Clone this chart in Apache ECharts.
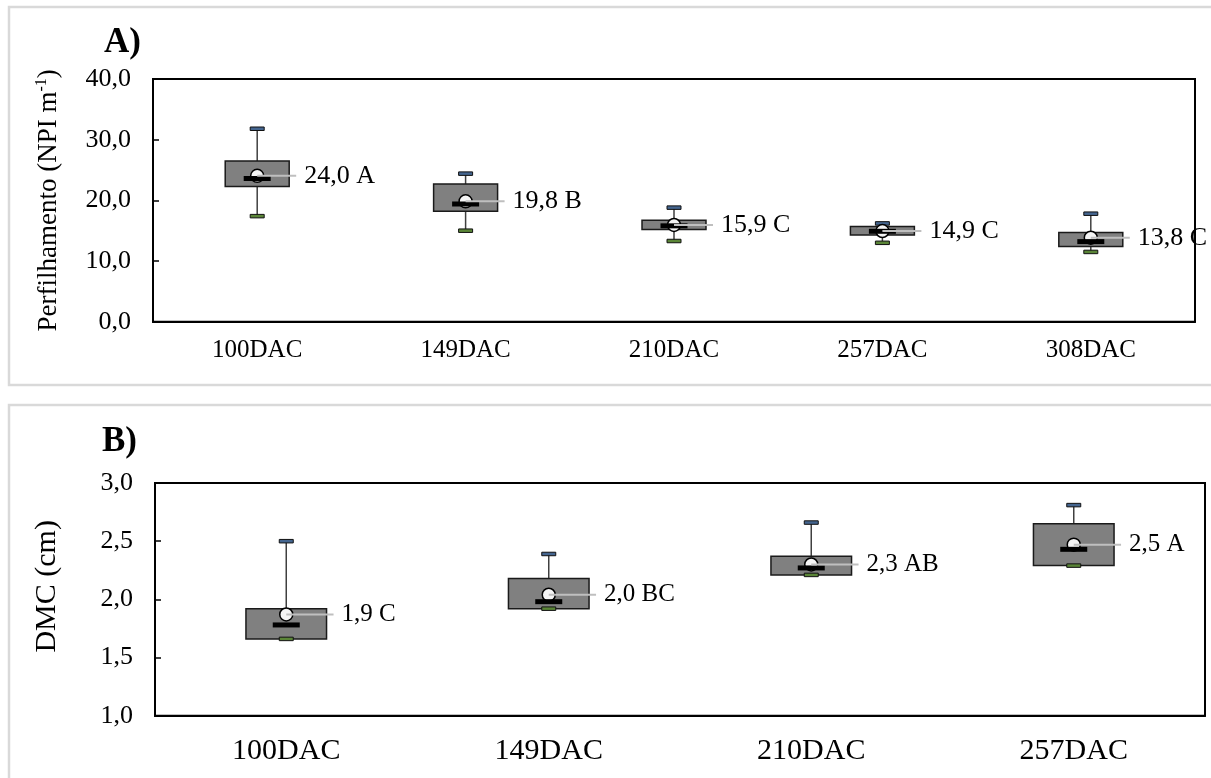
<!DOCTYPE html>
<html>
<head>
<meta charset="utf-8">
<script src="https://cdn.jsdelivr.net/npm/echarts@6/dist/echarts.min.js"></script>
<style>
  html, body { margin: 0; padding: 0; background: #fff; }
  #chart { width: 1211px; height: 778px; }
</style>
</head>
<body>
<div id="chart"></div>
<script>
// Panel A - Perfilhamento
const catsA = ["100DAC", "149DAC", "210DAC", "257DAC", "308DAC"];
const minA = [17.4, 15.0, 13.3, 13.0, 11.5];
const q1A = [22.3, 18.2, 15.2, 14.3, 12.4];
const medA = [23.6, 19.4, 15.8, 14.9, 13.2];
const q3A = [26.5, 22.7, 16.7, 15.7, 14.7];
const maxA = [31.8, 24.4, 18.8, 16.2, 17.8];
const meanA = [24.04, 19.84, 15.94, 14.94, 13.84];
const lettersA = ["A", "B", "C", "C", "C"];
const ticksA = { min: 0, max: 40, step: 10 };

// Panel B - DMC
const catsB = ["100DAC", "149DAC", "210DAC", "257DAC"];
const minB = [1.66, 1.92, 2.21, 2.29];
const q1B = [1.66, 1.92, 2.21, 2.29];
const medB = [1.78, 1.98, 2.27, 2.43];
const q3B = [1.92, 2.18, 2.37, 2.65];
const maxB = [2.50, 2.39, 2.66, 2.81];
const meanB = [1.87, 2.04, 2.30, 2.47];
const lettersB = ["C", "BC", "AB", "A"];
const ticksB = { min: 1, max: 3, step: 0.5 };

const FONT = "'Liberation Serif', 'Times New Roman', serif";
const comma = (v) => v.toFixed(1).replace(".", ",");

function rows(mn, q1, md, q3, mx, mean) {
  return mn.map((v, i) => [i, v, q1[i], md[i], q3[i], mx[i], mean[i]]);
}

function boxRender(mean, letters, fontSize) {
  return function (params, api) {
    const i = api.value(0);
    const x = api.coord([i, api.value(3)])[0];
    const yMin = api.coord([i, api.value(1)])[1];
    const yQ1 = api.coord([i, api.value(2)])[1];
    const yMed = api.coord([i, api.value(3)])[1];
    const yQ3 = api.coord([i, api.value(4)])[1];
    const yMax = api.coord([i, api.value(5)])[1];
    const yMean = api.coord([i, api.value(6)])[1];
    const bw = api.size([1, 0])[0] * 0.307;
    const half = bw / 2;
    const text = comma(mean[params.dataIndex]) + " " + letters[params.dataIndex];
    return {
      type: "group",
      children: [
        { type: "line", shape: { x1: x, y1: yQ3, x2: x, y2: yMax }, style: { stroke: "#404040", lineWidth: 1.5 } },
        { type: "line", shape: { x1: x, y1: yQ1, x2: x, y2: yMin }, style: { stroke: "#404040", lineWidth: 1.5 } },
        { type: "rect", shape: { x: x - half, y: yQ3, width: bw, height: yQ1 - yQ3 },
          style: { fill: "#808080", stroke: "#1a1a1a", lineWidth: 1.5 } },
        { type: "rect", shape: { x: x - 7, y: yMax - 1.75, width: 14, height: 3.5 },
          style: { fill: "#44658f", stroke: "#111", lineWidth: 1 } },
        { type: "rect", shape: { x: x - 7, y: yMin - 1.75, width: 14, height: 3.5 },
          style: { fill: "#5a8537", stroke: "#111", lineWidth: 1 } },
        { type: "circle", shape: { cx: x, cy: yMean, r: 6.5 },
          style: { fill: "#f4f4f4", stroke: "#000", lineWidth: 1.5 } },
        { type: "rect", shape: { x: x - 13.5, y: yMed - 2.5, width: 27, height: 5 }, style: { fill: "#000" } },
        { type: "line", shape: { x1: x, y1: yMean, x2: x + half + 7, y2: yMean },
          style: { stroke: "#bfbfbf", lineWidth: 2 } },
        { type: "text", x: x + half + 15, y: yMean,
          style: { text: text, fontSize: fontSize, fontFamily: FONT, fill: "#000", align: "left", verticalAlign: "middle" } }
      ]
    };
  };
}

const chart = echarts.init(document.getElementById("chart"));

const option = {
  backgroundColor: "#fff",
  animation: false,
  graphic: [
    { type: "rect", z: -10, shape: { x: 9, y: 7, width: 1215, height: 378 },
      style: { fill: "none", stroke: "#d9d9d9", lineWidth: 2.5 } },
    { type: "rect", z: -10, shape: { x: 9, y: 405, width: 1215, height: 400 },
      style: { fill: "none", stroke: "#d9d9d9", lineWidth: 2.5 } }
  ],
  title: [
    { text: "A)", left: 99, top: 20, textStyle: { fontFamily: FONT, fontSize: 35, fontWeight: "bold", color: "#000" } },
    { text: "B)", left: 97, top: 419, textStyle: { fontFamily: FONT, fontSize: 35, fontWeight: "bold", color: "#000" } }
  ],
  grid: [
    { left: 153, top: 79, width: 1042, height: 242.7, show: true, borderColor: "#000", borderWidth: 2, backgroundColor: "transparent" },
    { left: 155, top: 483, width: 1050, height: 232.7, show: true, borderColor: "#000", borderWidth: 2, backgroundColor: "transparent" }
  ],
  xAxis: [
    { type: "category", gridIndex: 0, data: catsA,
      axisLine: { lineStyle: { color: "#000", width: 2 } }, axisTick: { show: false },
      axisLabel: { color: "#000", fontFamily: FONT, fontSize: 25, margin: 16 } },
    { type: "category", gridIndex: 1, data: catsB,
      axisLine: { lineStyle: { color: "#000", width: 2 } }, axisTick: { show: false },
      axisLabel: { color: "#000", fontFamily: FONT, fontSize: 30, margin: 20 } }
  ],
  yAxis: [
    { type: "value", gridIndex: 0, min: ticksA.min, max: ticksA.max, interval: ticksA.step,
      name: "Perfilhamento (NPI m{sup|-1})", nameLocation: "middle", nameGap: 89,
      nameTextStyle: { color: "#000", fontFamily: FONT, fontSize: 27, lineHeight: 30,
        rich: { sup: { fontFamily: FONT, fontSize: 16, color: "#000", verticalAlign: "top", lineHeight: 30 } } },
      axisLine: { show: true, lineStyle: { color: "#000", width: 2 } },
      axisTick: { show: true, inside: true, length: 6, lineStyle: { color: "#000", width: 1.5 } },
      splitLine: { show: false },
      axisLabel: { color: "#000", fontFamily: FONT, fontSize: 26, margin: 22, formatter: (v) => comma(v) } },
    { type: "value", gridIndex: 1, min: ticksB.min, max: ticksB.max, interval: ticksB.step,
      name: "DMC (cm)", nameLocation: "middle", nameGap: 93,
      nameTextStyle: { color: "#000", fontFamily: FONT, fontSize: 30, padding: [0, 0, 0, 26] },
      axisLine: { show: true, lineStyle: { color: "#000", width: 2 } },
      axisTick: { show: true, inside: true, length: 6, lineStyle: { color: "#000", width: 1.5 } },
      splitLine: { show: false },
      axisLabel: { color: "#000", fontFamily: FONT, fontSize: 26, margin: 22, formatter: (v) => comma(v) } }
  ],
  series: [
    { type: "custom", xAxisIndex: 0, yAxisIndex: 0,
      renderItem: boxRender(meanA, lettersA, 26),
      encode: { x: 0, y: [1, 2, 3, 4, 5, 6] },
      data: rows(minA, q1A, medA, q3A, maxA, meanA) },
    { type: "custom", xAxisIndex: 1, yAxisIndex: 1,
      renderItem: boxRender(meanB, lettersB, 25),
      encode: { x: 0, y: [1, 2, 3, 4, 5, 6] },
      data: rows(minB, q1B, medB, q3B, maxB, meanB) }
  ]
};

chart.setOption(option);
</script>
</body>
</html>
